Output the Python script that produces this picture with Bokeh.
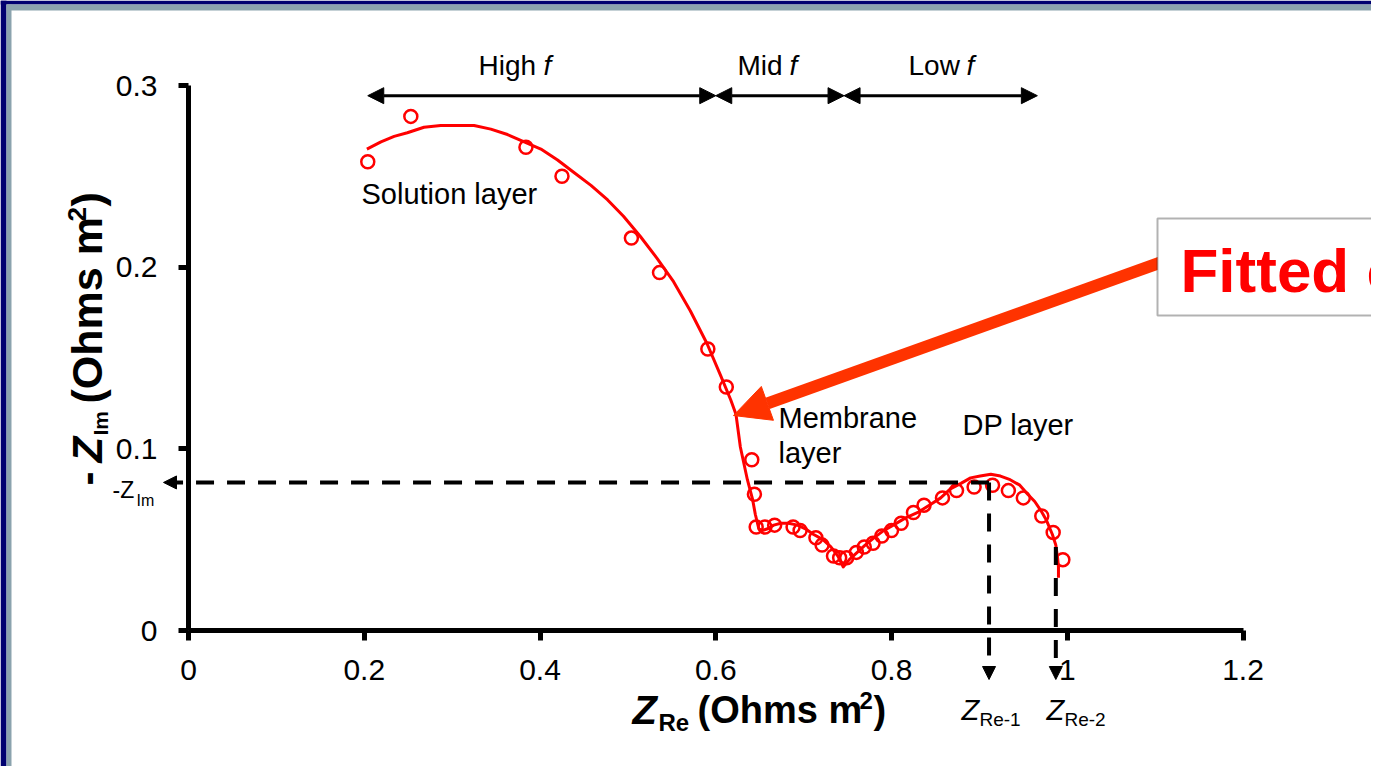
from bokeh.plotting import figure
from bokeh.models import Range1d, Label, Arrow, NormalHead, FixedTicker, BoxAnnotation
from bokeh.embed import file_html
from bokeh.resources import INLINE

# ---------------- data ----------------
z_re_data = [0.204, 0.253, 0.384, 0.425, 0.504, 0.536, 0.591, 0.612, 0.641, 0.644,
             0.646, 0.656, 0.667, 0.688, 0.696, 0.714, 0.721, 0.734, 0.741, 0.749,
             0.760, 0.769, 0.779, 0.789, 0.800, 0.811, 0.825, 0.837, 0.858, 0.874,
             0.894, 0.915, 0.933, 0.950, 0.971, 0.984, 0.995]
z_im_data = [0.258, 0.283, 0.266, 0.250, 0.216, 0.197, 0.155, 0.134, 0.094, 0.075,
             0.057, 0.057, 0.058, 0.057, 0.055, 0.051, 0.047, 0.041, 0.040, 0.040,
             0.043, 0.046, 0.048, 0.052, 0.055, 0.059, 0.065, 0.069, 0.073, 0.077,
             0.079, 0.080, 0.077, 0.073, 0.063, 0.054, 0.039]

z_re_fit = [0.203, 0.219, 0.234, 0.249, 0.268, 0.287, 0.306, 0.325, 0.344, 0.363,
            0.382, 0.401, 0.420, 0.439, 0.458, 0.477, 0.495, 0.514, 0.533, 0.552,
            0.571, 0.590, 0.605, 0.617, 0.623, 0.628, 0.636, 0.642, 0.645, 0.649,
            0.653, 0.659, 0.666, 0.674, 0.683, 0.693, 0.702, 0.711, 0.722, 0.731,
            0.739, 0.745, 0.752, 0.761, 0.770, 0.780, 0.791, 0.802, 0.816, 0.830,
            0.843, 0.856, 0.867, 0.879, 0.890, 0.901, 0.913, 0.924, 0.935, 0.946,
            0.955, 0.963, 0.970, 0.976, 0.983, 0.987, 0.989, 0.990, 0.990]
z_im_fit = [0.265, 0.269, 0.272, 0.274, 0.277, 0.278, 0.278, 0.278, 0.276, 0.273,
            0.269, 0.265, 0.259, 0.252, 0.245, 0.237, 0.228, 0.217, 0.205, 0.192,
            0.176, 0.158, 0.141, 0.127, 0.119, 0.101, 0.083, 0.072, 0.064, 0.056,
            0.055, 0.056, 0.058, 0.059, 0.059, 0.058, 0.056, 0.053, 0.050, 0.046,
            0.041, 0.035, 0.039, 0.043, 0.047, 0.051, 0.055, 0.058, 0.062, 0.065,
            0.069, 0.073, 0.078, 0.081, 0.084, 0.085, 0.086, 0.085, 0.083, 0.080,
            0.075, 0.071, 0.066, 0.061, 0.053, 0.047, 0.040, 0.035, 0.029]

x_ticks = [0, 0.2, 0.4, 0.6, 0.8, 1.0, 1.2]
x_tick_labels = ["0", "0.2", "0.4", "0.6", "0.8", "1", "1.2"]
y_ticks = [0, 0.1, 0.2, 0.3]
y_tick_labels = ["0", "0.1", "0.2", "0.3"]

band_edges = [0.204, 0.600, 0.746, 0.966]
band_names = ["High ", "Mid ", "Low "]
band_y = 0.2944

z_im_marker = 0.0815
z_re_1 = 0.911
z_re_2 = 0.987
z_re_2_top = 0.046

# ---------------- layout constants ----------------
W, H = 1371, 766
OX, OY = 188, 630            # canvas px of data origin
SX = 1054.5 / 1.2            # px per unit x
SY = 545.0 / 0.3             # px per unit y

def X(px):
    return (px - OX) / SX
def Y(py):
    return (OY - py) / SY

p = figure(width=W, height=H, output_backend="svg", toolbar_location=None, title=None,
           x_range=Range1d(X(0), X(W)), y_range=Range1d(Y(H), Y(0)),
           min_border_left=0, min_border_right=0, min_border_top=0, min_border_bottom=0)
p.grid.visible = False
p.outline_line_color = None
p.background_fill_color = "white"
p.border_fill_color = "white"

# slide frame (left and top bands)
NAVY, STEEL = "#000070", "#8BA3AE"
p.add_layout(BoxAnnotation(left=X(0), right=X(6), top=Y(0), bottom=Y(H + 20),
                           fill_color=NAVY, fill_alpha=1, line_color=None))
p.add_layout(BoxAnnotation(left=X(0), right=X(W + 20), top=Y(0), bottom=Y(4),
                           fill_color=NAVY, fill_alpha=1, line_color=None))
p.add_layout(BoxAnnotation(left=X(6), right=X(11), top=Y(4), bottom=Y(H + 20),
                           fill_color=STEEL, fill_alpha=1, line_color=None))
p.add_layout(BoxAnnotation(left=X(6), right=X(W + 20), top=Y(4), bottom=Y(10),
                           fill_color=STEEL, fill_alpha=1, line_color=None))

FONT = "Liberation Sans"
for ax in (p.xaxis[0], p.yaxis[0]):
    ax.fixed_location = 0
    ax.axis_line_width = 5
    ax.axis_line_color = "black"
    ax.major_tick_line_width = 5
    ax.major_tick_line_color = "black"
    ax.major_tick_out = 10
    ax.major_tick_in = 0
    ax.minor_tick_line_color = None
    ax.major_label_text_font = FONT
    ax.major_label_text_font_size = "30px"
    ax.major_label_text_color = "black"
    ax.axis_label = None
p.xaxis.bounds = (0, 1.2)
p.yaxis.bounds = (0, 0.3)
p.xaxis.ticker = FixedTicker(ticks=x_ticks)
p.xaxis.major_label_overrides = dict(zip(x_ticks, x_tick_labels))
p.xaxis.major_label_standoff = 19
p.yaxis.ticker = FixedTicker(ticks=y_ticks)
p.yaxis.major_label_overrides = dict(zip(y_ticks, y_tick_labels))
p.yaxis.major_label_standoff = 21

# ---------------- data glyphs ----------------
RED = "#FF0000"
p.line(z_re_fit, z_im_fit, line_color=RED, line_width=3, line_join="round")
p.scatter(z_re_data, z_im_data, marker="circle", size=13, fill_color=None,
          line_color=RED, line_width=2.5)

# ---------------- helper for text (px, py = start of the text baseline) ----------------
def lab(text, px, py, size, style="normal", color="black", angle=0):
    if angle == 0:
        ax_, ay_ = px, py - 0.35 * size
    else:
        ax_, ay_ = px - 0.35 * size, py
    p.add_layout(Label(x=X(ax_), y=Y(ay_), text=text, text_font=FONT,
                       text_font_size=f"{size}px", text_font_style=style,
                       text_color=color, angle=angle, angle_units="deg",
                       text_align="left", text_baseline="alphabetic"))

# ---------------- dashed guide arrows ----------------
def dash_arrow(x0, y0, x1, y1):
    p.add_layout(Arrow(end=NormalHead(size=13, fill_color="black", line_color="black", line_width=1),
                       x_start=x0, y_start=y0, x_end=x1, y_end=y1,
                       line_color="black", line_width=4, line_dash="18 13"))

dash_arrow(z_re_1, z_im_marker, X(163), z_im_marker)
dash_arrow(z_re_1, z_im_marker, z_re_1, Y(679))
dash_arrow(z_re_2, z_re_2_top, z_re_2, Y(679))

# ---------------- frequency band arrows ----------------
for i in range(len(band_names)):
    p.add_layout(Arrow(start=NormalHead(size=16, fill_color="black", line_color="black", line_width=1),
                       end=NormalHead(size=16, fill_color="black", line_color="black", line_width=1),
                       x_start=band_edges[i], y_start=band_y, x_end=band_edges[i + 1], y_end=band_y,
                       line_color="black", line_width=3))
lab(band_names[0], 478, 75, 28)
lab("f", 543, 75, 28, style="italic")
lab(band_names[1], 737, 75, 28)
lab("f", 789, 75, 28, style="italic")
lab(band_names[2], 908, 75, 28)
lab("f", 966, 75, 28, style="italic")

# ---------------- region labels ----------------
lab("Solution layer", 361, 204, 29)
lab("Membrane", 778, 428, 29)
lab("layer", 778, 463, 29)
lab("DP layer", 962, 435, 29)

# small guide labels
lab("-Z", 112, 498, 23)
lab("Im", 136, 506, 16)
lab("Z", 961, 720, 29, style="italic")
lab("Re-1", 979, 726, 19)
lab("Z", 1046, 720, 29, style="italic")
lab("Re-2", 1064, 726, 19)

# ---------------- axis titles (with sub/superscripts) ----------------
lab("Z", 632, 723, 40, style="bold italic")
lab("Re", 658, 730, 24, style="bold")
lab("(Ohms m", 697, 723, 38, style="bold")
lab("2", 859, 708, 24, style="bold")
lab(")", 873, 723, 38, style="bold")

lab("-", 102, 485, 42, style="bold", angle=90)
lab("Z", 102, 462, 42, style="bold italic", angle=90)
lab("Im", 107, 435, 21, style="bold", angle=90)
lab("(Ohms m", 102, 403, 43, style="bold", angle=90)
lab("2", 86, 221, 26, style="bold", angle=90)
lab(")", 102, 206, 43, style="bold", angle=90)

# ---------------- callout arrow + box ----------------
ORANGE = "#FF3300"
p.add_layout(Arrow(end=NormalHead(size=36, fill_color=ORANGE, line_color=ORANGE, line_width=1),
                   x_start=X(1160), y_start=Y(262), x_end=X(733), y_end=Y(415),
                   line_color=ORANGE, line_width=12))
p.add_layout(BoxAnnotation(left=X(1157), right=X(W + 40), top=Y(218), bottom=Y(315),
                           fill_color="white", fill_alpha=1, line_color="black", line_width=2))
lab("Fitted curve", 1180, 292, 62, style="bold", color=RED)

open("out.html", "w").write(file_html(p, INLINE))
